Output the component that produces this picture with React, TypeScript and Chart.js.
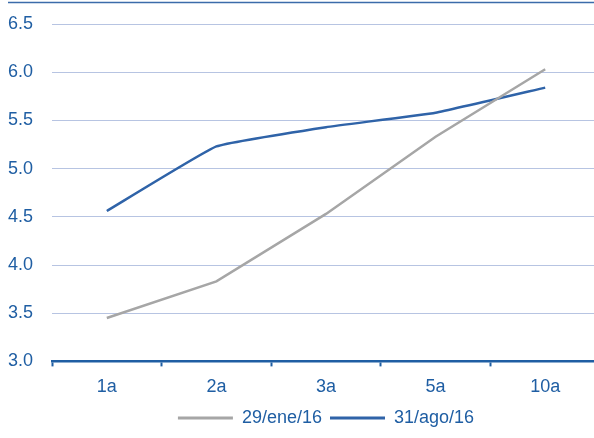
import React, { useEffect, useRef } from "react";
import { Chart, registerables } from "chart.js";

Chart.register(...registerables);

const categories = ["1a", "2a", "3a", "5a", "10a"];
const seriesEne = [3.45, 3.83, 4.53, 5.33, 6.03];
const seriesAgo = [4.56, 5.23, 5.43, 5.58, 5.84];
const seriesNames = ["29/ene/16", "31/ago/16"];

const TEXT = "#1F5EA3";
const BLUE = "#2F63A8";
const GRAY = "#A6A6A6";
const FONT = "'Liberation Sans', Arial, sans-serif";

const topLine = {
  id: "topLine",
  afterLayout(chart: any) {
    if (chart.legend) {
      chart.legend.left += 26;
      chart.legend.right += 26;
      chart.legend.top -= 7;
      chart.legend.bottom -= 7;
    }
  },
  afterDraw(chart: any) {
    const ctx = chart.ctx;
    ctx.save();
    ctx.strokeStyle = "#3B6BAA";
    ctx.lineWidth = 1.5;
    ctx.beginPath();
    ctx.moveTo(8, 2.5);
    ctx.lineTo(chart.width, 2.5);
    ctx.stroke();
    ctx.restore();
  },
};

export default function App() {
  const ref = useRef<HTMLCanvasElement>(null);
  useEffect(() => {
    if (!ref.current) return;
    const chart = new Chart(ref.current, {
      type: "line",
      data: {
        labels: categories,
        datasets: [
          {
            label: seriesNames[0],
            data: seriesEne,
            borderColor: GRAY,
            backgroundColor: GRAY,
            borderWidth: 2.5,
            pointRadius: 0,
            tension: 0,
          },
          {
            label: seriesNames[1],
            data: seriesAgo,
            borderColor: BLUE,
            backgroundColor: BLUE,
            borderWidth: 2.5,
            pointRadius: 0,
            tension: 0.1,
          },
        ],
      },
      options: {
        responsive: false,
        animation: false,
        layout: { padding: { top: 24, right: 52, left: 0, bottom: -6 } },
        plugins: {
          tooltip: { enabled: false },
          legend: {
            position: "bottom",
            labels: {
              boxWidth: 55,
              boxHeight: 3,
              padding: 8,
              color: TEXT,
              font: { family: FONT, size: 18 },
              generateLabels: (ch: any) =>
                Chart.defaults.plugins.legend.labels
                  .generateLabels(ch)
                  .map((l: any) => ({ ...l, lineWidth: 0 })),
            },
          },
        },
        scales: {
          x: {
            offset: true,
            grid: {
              display: true,
              offset: true,
              drawOnChartArea: false,
              drawTicks: true,
              tickLength: 5,
              tickWidth: 2,
              tickColor: "#1F5EA3",
            },
            border: { display: true, color: "#1F5EA3", width: 2.5 },
            ticks: {
              color: TEXT,
              padding: 10,
              font: { family: FONT, size: 18 },
              maxRotation: 0,
            },
          },
          y: {
            min: 3,
            max: 6.5,
            afterFit: (scale: any) => {
              scale.width = 52;
              scale.paddingTop = 0;
              scale.paddingBottom = 0;
            },
            grid: { color: "#B7C4E2", lineWidth: 1, drawTicks: false },
            border: { display: false },
            ticks: {
              stepSize: 0.5,
              padding: 19,
              color: TEXT,
              font: { family: FONT, size: 18 },
              callback: (v: any) => Number(v).toFixed(1),
            },
          },
        },
      },
      plugins: [topLine],
    });
    return () => chart.destroy();
  }, []);
  return (
    <div
      style={{
        position: "absolute",
        left: 0,
        top: 0,
        width: 594,
        height: 438,
        overflow: "hidden",
        background: "#fff",
      }}
    >
      <canvas ref={ref} width={652} height={438} />
    </div>
  );
}
